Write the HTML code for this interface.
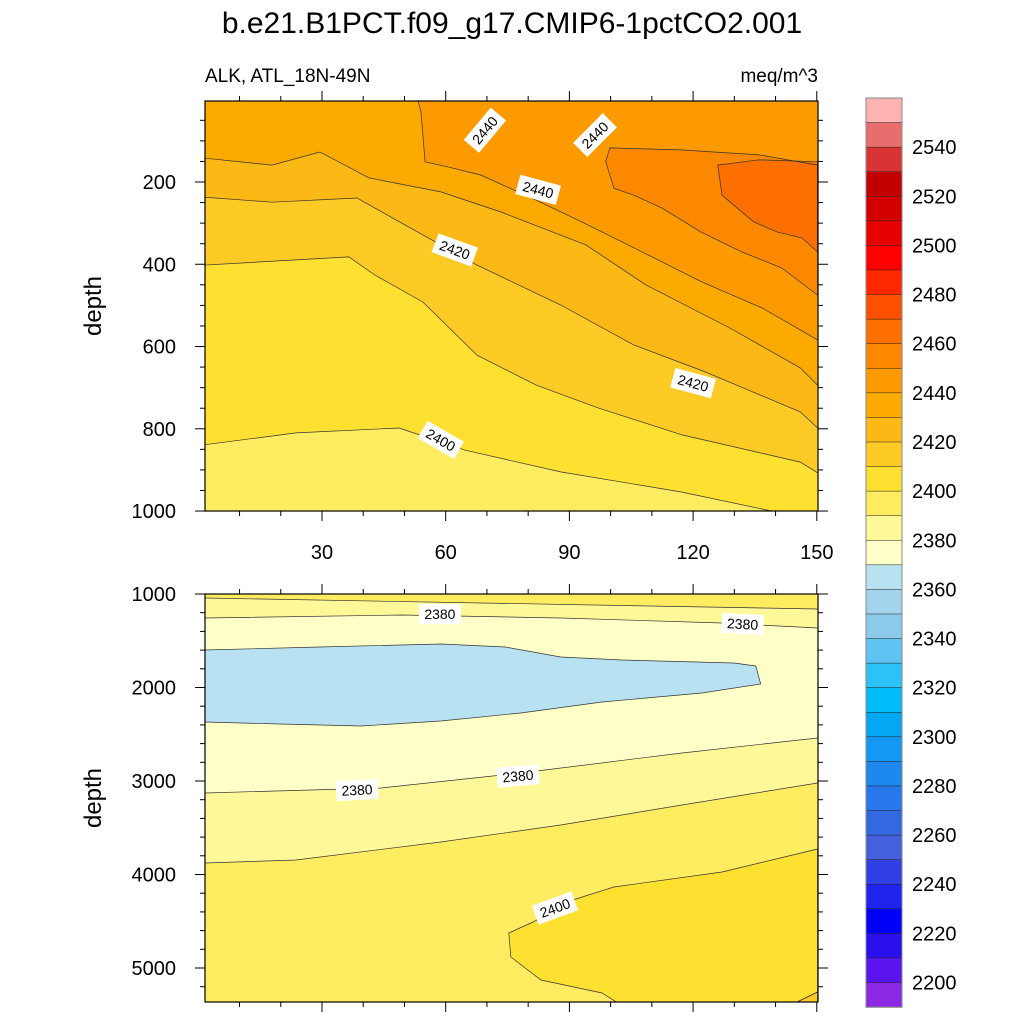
<!DOCTYPE html>
<html><head><meta charset="utf-8"><style>
html,body{margin:0;padding:0;background:#fff;}
svg{display:block;font-family:"Liberation Sans",sans-serif;}
</style></head><body>
<svg id="chart" width="1024" height="1024" viewBox="0 0 1024 1024" xmlns="http://www.w3.org/2000/svg">
<text x="512" y="33" font-size="30" text-anchor="middle">b.e21.B1PCT.f09_g17.CMIP6-1pctCO2.001</text>
<text x="205" y="82" font-size="19">ALK, ATL_18N-49N</text>
<text x="818" y="82" font-size="19" text-anchor="end">meq/m^3</text>
<text transform="translate(101,306) rotate(-90)" font-size="24" text-anchor="middle">depth</text>
<text transform="translate(101,798) rotate(-90)" font-size="24" text-anchor="middle">depth</text>
<defs>
<clipPath id="clipTop"><rect x="205" y="101" width="613" height="410"/></clipPath>
<clipPath id="clipBot"><rect x="205" y="594" width="613" height="408"/></clipPath>
</defs>
<g id="topPanel"></g>
<g id="botPanel"></g>
<g id="colorbar"></g>
</svg>
<script>
// ---- data ----
const xTicks = [30, 60, 90, 120, 150];
const topYTicks = [200, 400, 600, 800, 1000];
const botYTicks = [1000, 2000, 3000, 4000, 5000];
const topC2400 = [[1.4,839],[23.7,810],[48.7,798],[64.7,852],[88,905],[117.3,954],[139,1000],[150.2,1040]];
const topC2410 = [[1.4,402],[36.5,382],[42.8,426],[54.5,492],[67.6,621],[82,694],[96.9,749],[117.3,815],[146,881],[150.2,907]];
const topC2420 = [[1.4,237],[17.9,249],[38.5,239],[47.2,288],[67.6,402],[87.9,499],[105.6,596],[123,662],[146,759],[150.2,798]];
const topC2430 = [[1.4,142],[17.9,159],[29.5,127],[41.4,190],[58.8,224],[73.4,273],[94,353],[108.5,450],[128.9,555],[146,652],[150.2,694]];
const topC2440 = [[53,-10],[54,30],[55,151],[60.8,164],[68.5,183],[83,249],[93,297],[107.6,370],[122.1,443],[136.7,506],[150.2,584]];
const topC2450 = [[99.8,117],[117,122],[136,134],[150.2,159],[150.2,475],[141.5,409],[131.8,370],[122,322],[112.4,263],[105.6,232],[100.8,215],[98.8,151]];
const topC2460 = [[126,159],[136,146],[150.2,151],[150.2,370],[146.4,336],[140.5,322],[134.7,297],[127,232]];
const topLabels = [[69.5,74,"2440",-50],[96.2,86,"2440",-45],[82.4,219,"2440",15],[62.2,365,"2420",20],[120,689,"2420",15],[58.8,827,"2400",30]];
const botC2390low = [[1.4,3877],[23.7,3845],[58.8,3652],[87.9,3471],[117.3,3257],[150.2,3021]];
const botC2390top = [[1.4,1043],[150.2,1160]];
const botC2380top = [[1.4,1257],[49.2,1225],[87.9,1257],[127,1310],[150.2,1364]];
const botC2380low = [[1.4,3128],[44.3,3075],[78.2,2914],[117.3,2700],[150.2,2540]];
const botC2370 = [[1.4,1599],[29.5,1567],[58.8,1535],[74.4,1567],[87.9,1674],[102.7,1706],[129.9,1738],[135.2,1770],[136.4,1963],[122.1,2059],[97.9,2155],[78.2,2273],[58.8,2358],[39.5,2412],[19.8,2390],[1.4,2369]];
const botC2400 = [[75.3,4626],[75.8,4882],[83.1,5128],[97.9,5267],[102.7,5400],[143.5,5400],[150.2,5257],[150.2,3727],[127,3973],[100.8,4134],[90.8,4273],[81.2,4508]];
const botC2410 = [[143.5,5400],[150.2,5257],[150.2,5400]];
const botLabels = [[58.6,1214,"2380",0],[132,1321,"2380",3],[38.5,3096,"2380",-3],[77.5,2946,"2380",-5],[86.5,4358,"2400",-20]];
const cbLevels = [2540,2520,2500,2480,2460,2440,2420,2400,2380,2360,2340,2320,2300,2280,2260,2240,2220,2200];
const cbColors = ["#ffb3b3","#e86e6e","#d93333","#c20000","#d40000","#e60000","#ff0000","#ff2800","#ff5000","#fd7000","#fc8800","#fc9a00","#fcaa00","#fcb814","#fdca26","#fee030","#ffec60","#fff898","#ffffc8","#b8e2f2","#a2d4ee","#8ccaec","#60c4f2","#2cc2f8","#00bcf8","#04a8f2","#1498f4","#1c88f0","#2878ec","#3468e0","#4460dc","#3040e4","#1e24ec","#0000f8","#2a10ec","#5a14ee","#8a28e4"];

// ---- axes ----
const NS="http://www.w3.org/2000/svg";
const L=205,R=818,TT=101,TB=511,BT=594,BB=1002;
function xs(yr){return 322+(yr-30)*4.1233;}
function yT(d){return 182+(d-200)*0.4113;}
function yB(d){return 594+(d-1000)*0.0935;}
function mk(tag,attrs,parent){const e=document.createElementNS(NS,tag);for(const k in attrs)e.setAttribute(k,attrs[k]);parent.appendChild(e);return e;}
function ptsStr(arr,yf){return arr.map(p=>xs(p[0]).toFixed(1)+","+yf(p[1]).toFixed(1)).join(" ");}
function closeTop(arr){const a=arr.slice();a.push([arr[arr.length-1][0],-9999]);a.push([arr[0][0],-9999]);return a;}

const topG=document.getElementById('topPanel');
const gt=mk('g',{'clip-path':'url(#clipTop)'},topG);
mk('rect',{x:L,y:TT,width:R-L,height:TB-TT,fill:'#ffec60'},gt);
function fillPoly(g,arr,yf,color,name){
  const p=mk('polygon',{points:ptsStr(arr,yf),fill:color,stroke:'none'},g);
  
  
}
function line(g,arr,yf,closed,name){
  const p=mk(closed?'polygon':'polyline',{points:ptsStr(arr,yf),fill:'none',stroke:'#333','stroke-width':'0.7'},g);
  
  
}
fillPoly(gt,closeTop([[0,839]].concat(topC2400).concat([[152,1040]])),yT,'#fee030','band-2400-2410');
fillPoly(gt,closeTop([[0,402]].concat(topC2410).concat([[152,907]])),yT,'#fdca26','band-2410-2420');
fillPoly(gt,closeTop([[0,237]].concat(topC2420).concat([[152,798]])),yT,'#fcb814','band-2420-2430');
fillPoly(gt,closeTop([[0,142]].concat(topC2430).concat([[152,694]])),yT,'#fcaa00','band-2430-2440');
fillPoly(gt,closeTop(topC2440.concat([[152,584]])),yT,'#fc9a00','band-2440-2450');
fillPoly(gt,topC2450,yT,'#fc8800','band-2450-2460');
fillPoly(gt,topC2460,yT,'#fd7000','band-2460-2470');
line(gt,topC2400,yT,false,'contour-2400');
line(gt,topC2410,yT,false,'contour-2410');
line(gt,topC2420,yT,false,'contour-2420');
line(gt,topC2430,yT,false,'contour-2430');
line(gt,topC2440,yT,false,'contour-2440');
line(gt,topC2450,yT,true,'contour-2450');
line(gt,topC2460,yT,true,'contour-2460');

const botG=document.getElementById('botPanel');
const gb=mk('g',{'clip-path':'url(#clipBot)'},botG);
mk('rect',{x:L,y:BT,width:R-L,height:BB-BT,fill:'#ffec60'},gb);
fillPoly(gb,closeTop([[0,3877]].concat(botC2390low).concat([[152,3021]])),yB,'#fff898','band-2380-2390');
fillPoly(gb,closeTop([[0,1043]].concat(botC2390top).concat([[152,1160]])),yB,'#ffec60','band-2390-2400-top');
fillPoly(gb,[[0,1257]].concat(botC2380top).concat([[152,1364],[152,2540]]).concat(botC2380low.slice().reverse()).concat([[0,3128]]),yB,'#ffffc8','band-2370-2380');
fillPoly(gb,botC2370,yB,'#b8e2f2','band-2360-2370');
fillPoly(gb,botC2400,yB,'#fee030','band-2400-2410');
fillPoly(gb,botC2410,yB,'#fdca26','band-2410-2420');
line(gb,botC2390low,yB,false,'contour-2390-lower');
line(gb,botC2390top,yB,false,'contour-2390-upper');
line(gb,botC2380top,yB,false,'contour-2380-upper');
line(gb,botC2380low,yB,false,'contour-2380-lower');
line(gb,botC2370,yB,true,'contour-2370');
line(gb,botC2400,yB,true,'contour-2400');
line(gb,botC2410,yB,true,'contour-2410');

function labels(g,arr,yf){
  arr.forEach(l=>{
    const x=xs(l[0]),y=yf(l[1]);
    const gg=mk('g',{transform:`translate(${x.toFixed(1)},${y.toFixed(1)}) rotate(${l[3]})`},g);
    
    
    mk('rect',{x:-21,y:-10,width:42,height:20,fill:'#fff'},gg);
    const t=mk('text',{x:0,y:5,'font-size':'14','text-anchor':'middle'},gg);
    t.textContent=l[2];
  });
}
labels(topG,topLabels,yT);
labels(botG,botLabels,yB);

function frame(g,y0,y1,yf,majors,minorStep,dmin,dmax,showX,nameP){
  const r=mk('rect',{x:L,y:y0,width:R-L,height:y1-y0,fill:'none',stroke:'#000','stroke-width':'1.2'},g);
  
  
  const tg=mk('g',{stroke:'#000','stroke-width':'1'},g);
  for(let yr=10;yr<=150;yr+=10){
    const x=xs(yr),len=(yr%30===0)?10:5;
    mk('line',{x1:x,y1:y0,x2:x,y2:y0-len},tg);
    mk('line',{x1:x,y1:y1,x2:x,y2:y1+len},tg);
  }
  for(let d=Math.ceil(dmin/minorStep)*minorStep;d<=dmax;d+=minorStep){
    const y=yf(d),maj=majors.indexOf(d)>=0,len=maj?10:5;
    if(y<y0-0.5||y>y1+0.5)continue;
    mk('line',{x1:L,y1:y,x2:L-len,y2:y},tg);
    mk('line',{x1:R,y1:y,x2:R+len,y2:y},tg);
  }
  majors.forEach(d=>{
    const t=mk('text',{x:176,y:yf(d)+7,'font-size':'20','text-anchor':'end'},g);
    
    
    t.textContent=d;
  });
  if(showX){xTicks.forEach(v=>{
    const t=mk('text',{x:xs(v),y:y1+48,'font-size':'20','text-anchor':'middle'},g);
    
    
    t.textContent=v;
  });}
}
frame(topG,TT,TB,yT,topYTicks,50,0,1000,true,'top');
frame(botG,BT,BB,yB,botYTicks,200,1000,5400,false,'bottom');

const cb=document.getElementById('colorbar');
const cbTop=98,cbH=24.57;
cbColors.forEach((c,i)=>{
  const r=mk('rect',{x:866,y:(cbTop+i*cbH).toFixed(2),width:36,height:(cbH+0.3).toFixed(2),fill:c,stroke:'#222','stroke-width':'0.5'},cb);
  
  
});
mk('rect',{x:866,y:cbTop,width:36,height:cbH*37,fill:'none',stroke:'#888','stroke-width':'1'},cb);
cbLevels.forEach(v=>{
  const k=(2560-v)/10;
  const t=mk('text',{x:912,y:(cbTop+k*cbH+7).toFixed(1),'font-size':'20'},cb);
  
  
  t.textContent=v;
});
</script>
</body></html>
